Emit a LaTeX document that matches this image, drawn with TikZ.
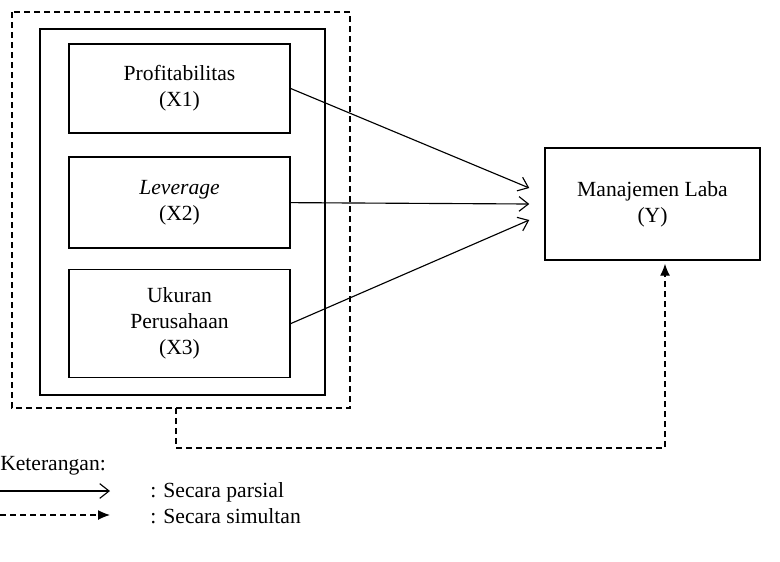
\documentclass[tikz,border=0pt]{standalone}
\usepackage{fontspec}
\setmainfont{Liberation Serif}
\usepackage{xcolor}
\usetikzlibrary{arrows.meta, calc, positioning}
\tikzset{
  varbox/.style={draw, line width=1.1pt, minimum width=165.75pt, align=center, inner sep=0pt, font=\fontsize{16.2}{19.5}\selectfont},
  parsial/.style={-{Straight Barb[length=7pt,width=11pt]}, line width=0.85pt},
  simultan/.style={-{Latex[length=9pt,width=7.5pt]}, line width=0.9pt, dash pattern=on 4.5pt off 3pt},
  legtext/.style={anchor=west, inner sep=0pt, font=\fontsize{16.2}{19.5}\selectfont}
}
\begin{document}
\begin{tikzpicture}[x=0.75pt,y=-0.75pt]
\useasboundingbox (0,0) rectangle (780,561);
\draw[line width=0.9pt, dash pattern=on 4.5pt off 3pt] (12,12) rectangle (350,408);
\draw[line width=1.1pt] (40,29) rectangle (325,395);
\node[varbox, minimum height=66.75pt] (x1) at (179.5,88.5) {Profitabilitas\\(X1)};
\node[varbox, minimum height=68.25pt, below=17pt of x1] (x2) {\textit{Leverage}\\(X2)};
\node[varbox, minimum height=81pt, below=15pt of x2] (x3) {Ukuran\\Perusahaan\\(X3)};
\node[varbox, minimum width=161.25pt, minimum height=84pt] (y) at (652.5,204) {Manajemen Laba\\(Y)};
\coordinate (t1) at ($(y.west)+(-15,-16)$);
\coordinate (t2) at ($(y.west)+(-15,0)$);
\coordinate (t3) at ($(y.west)+(-15,16)$);
\draw[parsial] (x1.east) -- (t1);
\draw[parsial] (x2.east) -- (t2);
\draw[parsial] (x3.east) -- (t3);
\coordinate (grp) at (176,408);
\coordinate (ty) at ($(y.south)+(12.5,3)$);
\draw[simultan] (grp) |- (665,448) -- (ty);
\node[legtext] (ket) at (0,466) {Keterangan:};
\coordinate (lp1) at (0,491);
\coordinate (lp2) at (110,491);
\coordinate (ls1) at (0,515);
\coordinate (ls2) at (110,515);
\draw[parsial] (lp1) -- (lp2);
\draw[simultan] (ls1) -- (ls2);
\node[legtext] (par) at (150,492) {: Secara parsial};
\node[legtext] (sim) at (150,516) {: Secara simultan};
\end{tikzpicture}
\end{document}
